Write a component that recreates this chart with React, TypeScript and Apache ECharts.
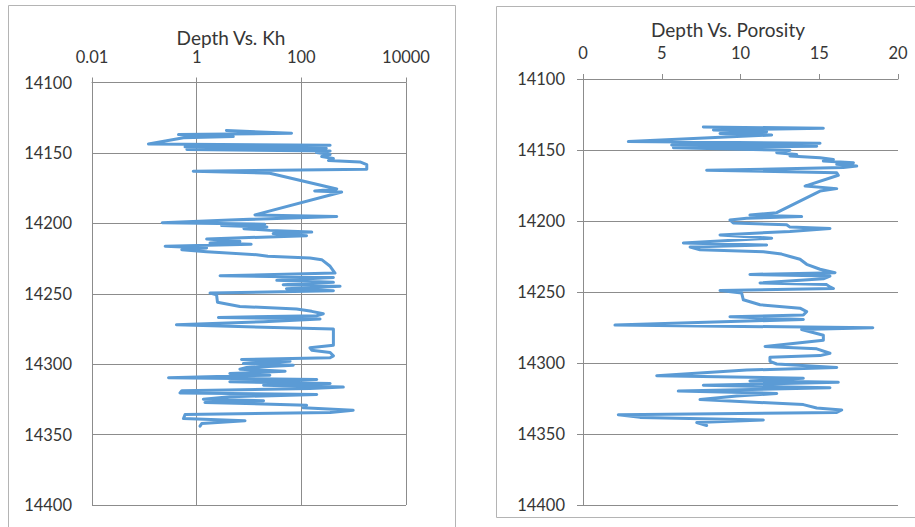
import React, { useEffect, useRef } from "react";
import * as echarts from "echarts";

// ---- Data ----
const khDepths = [
  14134.1, 14136.0, 14137.0, 14138.4, 14139.3, 14143.6, 14144.6, 14145.7, 14146.7, 14147.6,
  14148.6, 14149.8, 14151.2, 14152.6, 14154.0, 14155.4, 14156.4, 14158.3, 14161.6, 14163.0,
  14164.4, 14175.6, 14177.0, 14177.7, 14194.0, 14195.2, 14197.6, 14199.5, 14200.6, 14201.6,
  14202.6, 14203.8, 14205.0, 14206.2, 14207.3, 14208.8, 14211.1, 14212.8, 14214.0, 14214.9,
  14216.3, 14217.5, 14218.7, 14220.1, 14222.3, 14223.4, 14224.6, 14225.8, 14230.5, 14235.3,
  14237.2, 14238.4, 14240.5, 14241.9, 14243.6, 14244.7, 14246.4, 14247.8, 14249.5, 14250.7,
  14256.1, 14259.0, 14260.8, 14262.5, 14264.2, 14265.6, 14266.8, 14267.9, 14269.8, 14272.0,
  14275.1, 14286.5, 14288.4, 14290.1, 14291.7, 14294.1, 14295.5, 14296.7, 14297.9, 14299.5,
  14300.7, 14302.4, 14303.6, 14305.0, 14306.6, 14307.8, 14309.7, 14310.9, 14312.5, 14313.7,
  14314.9, 14316.3, 14317.3, 14318.9, 14320.4, 14321.5, 14323.2, 14324.9, 14326.0, 14327.2,
  14329.1, 14331.0, 14332.7, 14334.3, 14335.7, 14338.6, 14340.2, 14342.1, 14344.0,
];
const khValues = [
  3.7, 65, 0.45, 5.0, 0.56, 0.12, 355, 0.6, 300, 0.65,
  355, 195, 355, 245, 410, 330, 1320, 1780, 1780, 0.86,
  25, 475, 180, 590, 13, 475, 4.3, 0.22, 20, 3.0,
  22, 8, 25, 158, 29, 126, 1.55, 6.7, 1.8, 11,
  0.25, 1.55, 0.52, 1.55, 14, 23, 146, 245, 355, 440,
  2.8, 410, 34, 410, 45, 550, 52, 410, 1.8, 2.4,
  2.5, 6.7, 81, 158, 263, 196, 2.6, 228, 19, 0.41,
  410, 410, 146, 158, 355, 410, 355, 7.2, 61, 7.8,
  70, 9, 6.7, 49, 4.3, 25, 0.29, 197, 4.3, 355,
  19, 634, 146, 0.52, 0.48, 197, 4.3, 1.34, 19, 1.44,
  126, 109, 980, 355, 0.6, 0.56, 8.4, 1.25, 1.16,
];

const porDepths = [
  14133.8, 14134.7, 14135.9, 14137.1, 14138.3, 14139.4, 14144.1, 14145.3, 14146.5, 14147.4,
  14148.4, 14150.2, 14151.9, 14153.1, 14154.2, 14155.4, 14156.6, 14157.7, 14158.9, 14160.1,
  14161.3, 14162.4, 14164.3, 14166.0, 14167.8, 14175.4, 14177.2, 14178.9, 14194.1, 14195.8,
  14196.9, 14198.1, 14199.3, 14201.4, 14202.6, 14204.3, 14205.2, 14207.4, 14209.8, 14212.1,
  14215.5, 14216.9, 14218.3, 14220.2, 14221.7, 14223.3, 14225.0, 14226.9, 14230.5, 14234.0,
  14236.4, 14237.6, 14238.8, 14240.7, 14243.6, 14244.8, 14246.4, 14247.6, 14249.0, 14250.7,
  14255.5, 14259.0, 14261.4, 14263.8, 14266.2, 14267.4, 14269.3, 14273.3, 14275.2, 14276.4,
  14280.5, 14284.0, 14288.3, 14290.0, 14293.1, 14294.8, 14296.0, 14298.8, 14300.7, 14303.1,
  14305.0, 14309.0, 14310.7, 14312.6, 14313.6, 14315.7, 14317.4, 14319.8, 14321.4, 14323.3,
  14325.7, 14329.3, 14331.7, 14333.1, 14334.8, 14336.4, 14338.3, 14340.2, 14341.9, 14344.0,
];
const porValues = [
  7.64, 15.26, 8.28, 11.66, 8.7, 11.98, 2.88, 15.05, 5.63, 14.84,
  5.74, 13.14, 12.3, 13.57, 13.14, 15.05, 15.9, 15.26, 17.17, 16.11,
  17.38, 16.53, 7.85, 16.11, 16.21, 14.1, 16.11, 15.05, 12.3, 10.6,
  13.88, 10.39, 9.33, 9.54, 12.93, 13.14, 15.68, 13.14, 8.7, 11.98,
  6.37, 11.66, 6.8, 7.43, 11.45, 12.61, 13.14, 13.78, 14.2, 15.05,
  16.0, 10.6, 15.68, 15.26, 11.24, 15.47, 15.68, 15.9, 8.7, 10.07,
  10.18, 11.24, 13.78, 14.2, 13.99, 9.33, 13.99, 2.03, 18.4, 13.88,
  15.26, 15.26, 11.56, 14.84, 15.68, 15.05, 11.87, 11.87, 12.3, 16.11,
  10.39, 4.68, 13.99, 10.6, 16.21, 7.64, 15.68, 6.05, 12.3, 9.76,
  7.43, 13.99, 14.84, 16.43, 16.11, 2.24, 3.62, 11.45, 7.22, 7.85,
];

const khTickValues = [0.01, 1, 100, 10000];
const khTickLabels = ["0.01", "1", "100", "10000"];
const porTickLabels = ["0", "5", "10", "15", "20"];
const depthMin = 14100;
const depthMax = 14400;
const depthStep = 50;
const titles = ["Depth Vs. Kh", "Depth Vs. Porosity"];

const FONT = "Lato, 'Open Sans', sans-serif";
const TEXT = "#363636";
const GRIDC = "#8c8c8c";
const LINEC = "#5B9BD5";
const BOXC = "#b4b4b4";

export default function App() {
  const ref = useRef<HTMLDivElement>(null);
  useEffect(() => {
    if (!ref.current) return;
    const chart = echarts.init(ref.current, undefined, { renderer: "svg" });
    const khData = khDepths.map((d, i) => [khValues[i], d]);
    const porData = porDepths.map((d, i) => [porValues[i], d]);
    const labelStyle = { color: TEXT, fontFamily: FONT, fontSize: 16.5 };
    const depthAxisBase = {
      type: "value",
      inverse: true,
      min: depthMin,
      max: depthMax,
      interval: depthStep,
      axisLine: { show: true, lineStyle: { color: GRIDC, width: 1 } },
      splitLine: { show: true, lineStyle: { color: GRIDC, width: 1 } },
    };
    chart.setOption({
      animation: false,
      backgroundColor: "#ffffff",
      graphic: [
        {
          type: "rect",
          silent: true,
          z: -10,
          shape: { x: 8.5, y: 5.5, width: 447, height: 540 },
          style: { fill: "#ffffff", stroke: BOXC, lineWidth: 1 },
        },
        {
          type: "rect",
          silent: true,
          z: -10,
          shape: { x: 496.5, y: 6.5, width: 470, height: 511 },
          style: { fill: "#ffffff", stroke: BOXC, lineWidth: 1 },
        },
        {
          type: "text",
          x: 231,
          y: 37,
          style: {
            text: titles[0],
            align: "center",
            verticalAlign: "middle",
            fontSize: 19,
            fontFamily: FONT,
            fill: TEXT,
          },
        },
        {
          type: "text",
          x: 728,
          y: 29,
          style: {
            text: titles[1],
            align: "center",
            verticalAlign: "middle",
            fontSize: 19,
            fontFamily: FONT,
            fill: TEXT,
          },
        },
      ],
      grid: [
        { left: 92, top: 82.5, width: 314, height: 422.5, containLabel: false },
        { left: 583, top: 79, width: 315, height: 426, containLabel: false },
      ],
      xAxis: [
        {
          gridIndex: 0,
          type: "log",
          logBase: 10,
          min: khTickValues[0],
          max: khTickValues[khTickValues.length - 1],
          interval: 2,
          position: "top",
          axisLine: { show: true, lineStyle: { color: GRIDC, width: 1 } },
          axisTick: { show: true, length: 5, lineStyle: { color: GRIDC } },
          minorTick: { show: false },
          splitLine: { show: true, lineStyle: { color: GRIDC, width: 1 } },
          axisLabel: {
            ...labelStyle,
            margin: 17,
            formatter: (v: number) => {
              const idx = khTickValues.findIndex(
                (t) => Math.abs(Math.log10(t) - Math.log10(v)) < 1e-6
              );
              return idx >= 0 ? khTickLabels[idx] : "";
            },
          },
        },
        {
          gridIndex: 1,
          type: "value",
          min: 0,
          max: 20,
          interval: 5,
          position: "top",
          axisLine: { show: true, lineStyle: { color: GRIDC, width: 1 } },
          axisTick: { show: true, length: 5, lineStyle: { color: GRIDC } },
          splitLine: { show: false },
          axisLabel: {
            ...labelStyle,
            margin: 18,
            formatter: (v: number) => porTickLabels[Math.round(v / 5)] ?? String(v),
          },
        },
      ],
      yAxis: [
        {
          gridIndex: 0,
          ...depthAxisBase,
          axisTick: { show: false },
          axisLabel: { ...labelStyle, margin: 20, formatter: (v: number) => String(v) },
        },
        {
          gridIndex: 1,
          ...depthAxisBase,
          axisTick: { show: true, length: 6, lineStyle: { color: GRIDC } },
          axisLabel: { ...labelStyle, margin: 18, formatter: (v: number) => String(v) },
        },
      ],
      series: [
        {
          type: "line",
          xAxisIndex: 0,
          yAxisIndex: 0,
          data: khData,
          showSymbol: false,
          symbol: "none",
          lineStyle: { color: LINEC, width: 3, join: "round", cap: "round" },
          itemStyle: { color: LINEC },
        },
        {
          type: "line",
          xAxisIndex: 1,
          yAxisIndex: 1,
          data: porData,
          showSymbol: false,
          symbol: "none",
          lineStyle: { color: LINEC, width: 3, join: "round", cap: "round" },
          itemStyle: { color: LINEC },
        },
      ],
    });
    return () => chart.dispose();
  }, []);
  return (
    <div
      ref={ref}
      style={{ position: "fixed", left: 0, top: 0, width: 915, height: 527, background: "#fff" }}
    />
  );
}
